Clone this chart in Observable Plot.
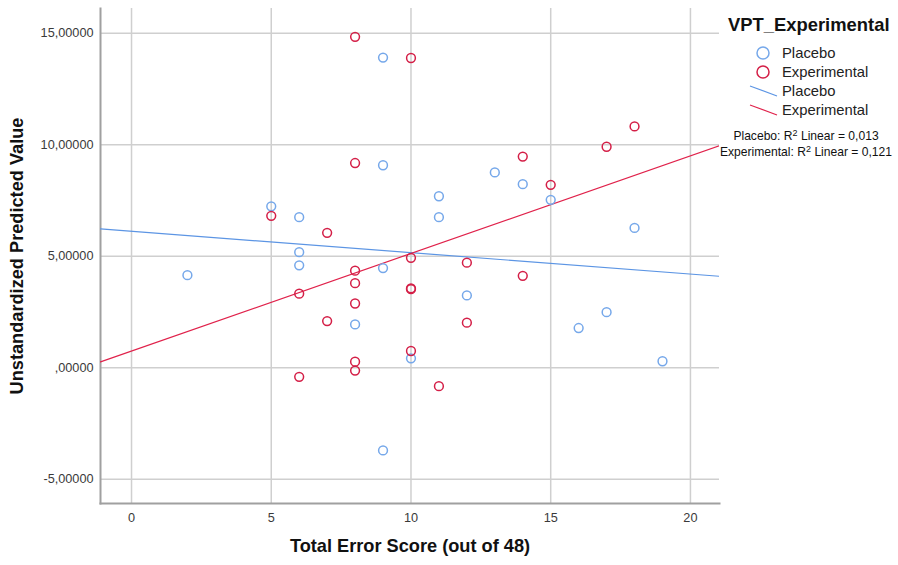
<!DOCTYPE html>
<html>
<head>
<meta charset="utf-8">
<script src="https://cdn.jsdelivr.net/npm/d3@7"></script>
<script src="https://cdn.jsdelivr.net/npm/@observablehq/plot@0.6"></script>
<style>
  html, body { margin: 0; padding: 0; background: #fff; }
  #wrap { position: relative; width: 898px; height: 565px; font-family: "Liberation Sans", Arial, sans-serif; }
  #legend { position: absolute; left: 715px; top: 0; }
</style>
</head>
<body>
<div id="wrap">
  <div id="chart"></div>
  <svg id="legend" width="183" height="170" font-family="Liberation Sans, Arial, sans-serif"></svg>
</div>
<script>
// ---------- data ----------
const groups = ["Placebo", "Experimental"];

const placeboX = [9, 9, 5, 6, 6, 13, 14, 11, 11, 15, 18, 6, 2, 9, 8, 10, 9, 12, 16, 17, 19];
const placeboY = [13.91, 9.08, 7.24, 6.75, 5.18, 8.76, 8.23, 7.69, 6.75, 7.53, 6.27, 4.59, 4.15, 4.47, 1.94, 0.42, -3.71, 3.24, 1.78, 2.49, 0.29];

const experimentalX = [8, 10, 8, 5, 7, 18, 17, 14, 15, 8, 10, 8, 10, 10, 6, 8, 7, 10, 8, 8, 6, 12, 14, 12, 11];
const experimentalY = [14.84, 13.89, 9.18, 6.81, 6.05, 10.82, 9.91, 9.47, 8.20, 4.35, 4.93, 3.79, 3.56, 3.52, 3.32, 2.88, 2.09, 0.75, 0.27, -0.13, -0.41, 4.71, 4.12, 2.02, -0.83];

// fit lines: intercept and slope per group
const fitIntercept = [6.12, 0.745];
const fitSlope = [-0.096, 0.438];
const r2Labels = ["0,013", "0,121"];

const yTicks = [-5, 0, 5, 10, 15];
const xTicks = [0, 5, 10, 15, 20];
const xDomain = [-1.11, 21.04];
const yDomain = [-6.09, 16.11];

const xLabel = "Total Error Score (out of 48)";
const yLabel = "Unstandardized Predicted Value";
const legendTitle = "VPT_Experimental";

const pointColors = {Placebo: "#76a8ea", Experimental: "#d41f47"};
const lineColors = {Placebo: "#5c95e4", Experimental: "#e0224b"};

// ---------- build tables ----------
const points = [
  ...placeboX.map((x, i) => ({group: "Placebo", x, y: placeboY[i]})),
  ...experimentalX.map((x, i) => ({group: "Experimental", x, y: experimentalY[i]}))
];
const fitRows = groups.flatMap((g, i) => xDomain.map(x => ({group: g, x, y: fitIntercept[i] + fitSlope[i] * x})));

const fmt = v => (v < 0 ? "-" : "") + (v === 0 ? "" : Math.abs(v)) + ",00000";
const font = "Liberation Sans, Arial, sans-serif";

const chart = Plot.plot({
  width: 898,
  height: 565,
  marginLeft: 100,
  marginRight: 179,
  marginTop: 8,
  marginBottom: 62,
  style: {fontFamily: font, background: "#fff"},
  x: {domain: xDomain},
  y: {domain: yDomain},
  marks: [
    Plot.gridX(xTicks, {stroke: "#cfcfcf", strokeOpacity: 1, strokeWidth: 1.5}),
    Plot.gridY(yTicks, {stroke: "#cfcfcf", strokeOpacity: 1, strokeWidth: 1.5}),
    Plot.axisX(xTicks, {tickSize: 0, tickPadding: 9, fontSize: 12.7, color: "#3a3a3a", label: null}),
    Plot.axisY(yTicks, {tickSize: 0, tickPadding: 7, fontSize: 12.7, color: "#3a3a3a", tickFormat: fmt, label: null}),
    Plot.frame({anchor: "left", stroke: "#a0a0a0", strokeWidth: 2}),
    Plot.frame({anchor: "bottom", stroke: "#a0a0a0", strokeWidth: 2}),
    Plot.line(fitRows, {x: "x", y: "y", z: "group", stroke: d => lineColors[d.group], strokeWidth: 1.2, clip: true}),
    Plot.dot(points, {x: "x", y: "y", r: 4.4, stroke: d => pointColors[d.group], strokeWidth: 1.5, fill: "none"}),
    Plot.text([xLabel], {frameAnchor: "bottom", dy: 48, fontSize: 18.2, fontWeight: "bold", fill: "#111"}),
    Plot.text([yLabel], {frameAnchor: "left", textAnchor: "middle", rotate: -90, dx: -83, fontSize: 18.2, fontWeight: "bold", fill: "#111"})
  ]
});
document.getElementById("chart").appendChild(chart);

// ---------- legend ----------
const lg = d3.select("#legend");
lg.append("text").attr("x", 13).attr("y", 31).attr("font-size", 18.4).attr("font-weight", "bold").attr("fill", "#111").text(legendTitle);
groups.forEach((g, i) => {
  const cy = 53 + i * 19;
  lg.append("circle").attr("cx", 48).attr("cy", cy).attr("r", 6).attr("fill", "none").attr("stroke", pointColors[g]).attr("stroke-width", 1.5);
  lg.append("text").attr("x", 67).attr("y", cy + 5).attr("font-size", 14.8).attr("fill", "#222").text(g);
});
groups.forEach((g, i) => {
  const cy = 91 + i * 19;
  lg.append("line").attr("x1", 35).attr("y1", cy - 5).attr("x2", 62).attr("y2", cy + 5).attr("stroke", lineColors[g]).attr("stroke-width", 1.2);
  lg.append("text").attr("x", 67).attr("y", cy + 5).attr("font-size", 14.8).attr("fill", "#222").text(g);
});
groups.forEach((g, i) => {
  const t = lg.append("text").attr("x", 91).attr("y", 140 + i * 15.5).attr("font-size", 12.1).attr("fill", "#111").attr("text-anchor", "middle");
  t.append("tspan").text(g + ": R");
  t.append("tspan").attr("dy", -4).attr("font-size", 9).text("2");
  t.append("tspan").attr("dy", 4).text(" Linear = " + r2Labels[i]);
});
</script>
</body>
</html>
